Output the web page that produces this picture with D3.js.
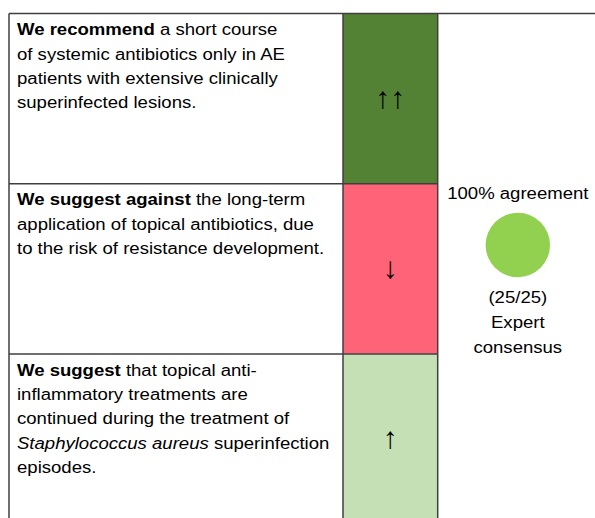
<!DOCTYPE html>
<html>
<head>
<meta charset="utf-8">
<script src="https://cdn.jsdelivr.net/npm/d3@7"></script>
<style>
  html, body { margin: 0; padding: 0; background: #fff; }
  svg { display: block; }
</style>
</head>
<body>
<svg id="chart" width="595" height="518"></svg>
<script>
// ---- data ----
const rowIds = ["r1", "r2", "r3"];
const strengths = ["strong-for", "weak-against", "weak-for"];
const arrows = ["\u2191\u2191", "\u2193", "\u2191"];
// each line is a list of [style, text] segments
const statements = [
  [
    [["b", "We recommend"], ["n", " a short course"]],
    [["n", "of systemic antibiotics only in AE"]],
    [["n", "patients with extensive clinically"]],
    [["n", "superinfected lesions."]]
  ],
  [
    [["b", "We suggest against"], ["n", " the long-term"]],
    [["n", "application of topical antibiotics, due"]],
    [["n", "to the risk of resistance development."]]
  ],
  [
    [["b", "We suggest"], ["n", " that topical anti-"]],
    [["n", "inflammatory treatments are"]],
    [["n", "continued during the treatment of"]],
    [["i", "Staphylococcus aureus"], ["n", " superinfection"]],
    [["n", "episodes."]]
  ]
];
const agreementPct = 100;
const votesFor = 25;
const votesTotal = 25;
const consensusLabel = ["Expert", "consensus"];

// ---- layout ----
const svg = d3.select("#chart");
const font = "'Liberation Sans', Arial, Helvetica, sans-serif";
const lineColor = "#3f3f3f";
const lw = 1.5;
const sx = 1.16; // horizontal stretch of the reference glyphs

const y = d3.scaleBand().domain(rowIds).range([13.5, 13.5 + 3 * 170.2]).padding(0);
const x = d3.scaleOrdinal().domain(["left", "text", "mid", "right", "end"]).range([9, 17, 343, 437.7, 595]);
const color = d3.scaleOrdinal().domain(["strong-for", "weak-against", "weak-for"])
  .range(["#548235", "#FF6378", "#C5E0B4"]);

const rows = rowIds.map((id, i) => ({ id, strength: strengths[i], arrow: arrows[i], lines: statements[i] }));

// colored strength cells
svg.append("g").selectAll("rect").data(rows).join("rect")
  .attr("x", x("mid")).attr("y", d => y(d.id))
  .attr("width", x("right") - x("mid")).attr("height", y.bandwidth())
  .attr("fill", d => color(d.strength));

// arrows
svg.append("g").selectAll("text").data(rows).join("text")
  .attr("transform", d => `translate(${(x("mid") + x("right")) / 2},${y(d.id) + y.bandwidth() / 2 + 9})`)
  .attr("text-anchor", "middle")
  .attr("font-family", font).attr("font-size", 30)
  .attr("fill", "#000")
  .text(d => d.arrow);

// statements
const lineH = 24.3;
const tg = svg.append("g").attr("font-family", font).attr("font-size", 16).attr("fill", "#000");
rows.forEach(r => {
  r.lines.forEach((segs, li) => {
    const t = tg.append("text")
      .attr("transform", `translate(${x("text")},${y(r.id) + 21.7 + li * lineH}) scale(${sx},1)`)
      .style("white-space", "pre");
    segs.forEach(([s, txt]) => {
      t.append("tspan")
        .attr("font-weight", s === "b" ? "bold" : null)
        .attr("font-style", s === "i" ? "italic" : null)
        .text(txt);
    });
  });
});

// grid lines
const g = svg.append("g").attr("stroke", lineColor).attr("stroke-width", lw).attr("fill", "none");
const tableTop = y.range()[0];
const tableBottom = 530;
g.append("line").attr("x1", x("left")).attr("x2", x("end")).attr("y1", tableTop).attr("y2", tableTop);
[x("left"), x("mid"), x("right")].forEach(xx =>
  g.append("line").attr("x1", xx).attr("x2", xx).attr("y1", tableTop).attr("y2", tableBottom));
rowIds.slice(1).forEach(id =>
  g.append("line").attr("x1", x("left")).attr("x2", x("right")).attr("y1", y(id)).attr("y2", y(id)));

// agreement column
const cx = 517.8;
const ag = svg.append("g").attr("font-family", font).attr("font-size", 16).attr("fill", "#000")
  .attr("text-anchor", "middle");
const labelAt = (yy, txt) => ag.append("text")
  .attr("transform", `translate(${cx},${yy}) scale(${sx},1)`).text(txt);
labelAt(199.3, `${agreementPct}% agreement`);
svg.append("circle").attr("cx", cx).attr("cy", 245).attr("r", 32.2).attr("fill", "#92D050");
labelAt(302.8, `(${votesFor}/${votesTotal})`);
consensusLabel.forEach((l, i) => labelAt(327.5 + i * 25.2, l));
</script>
</body>
</html>
